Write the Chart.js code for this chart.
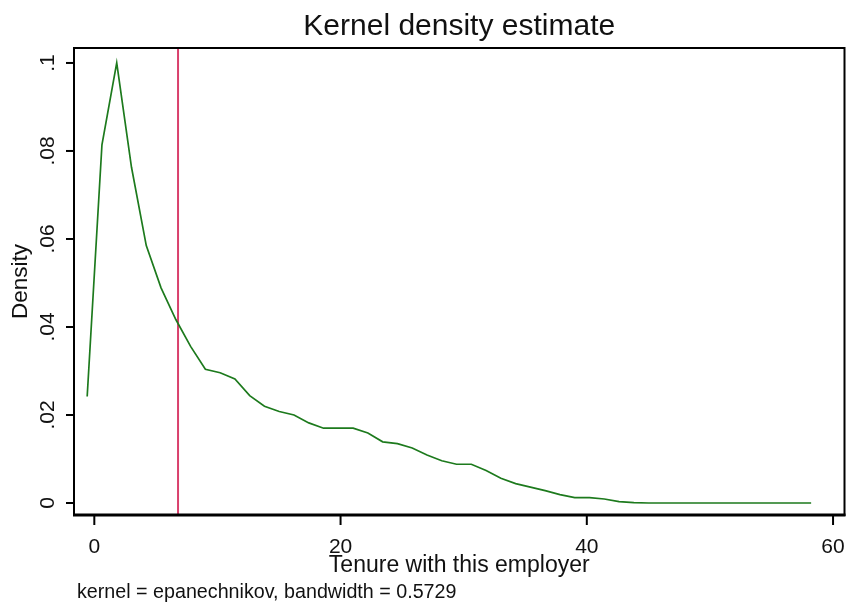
<!DOCTYPE html>
<html>
<head>
<meta charset="utf-8">
<script src="https://cdn.jsdelivr.net/npm/chart.js@4.4.1/dist/chart.umd.min.js"></script>
<style>
  html, body { margin: 0; padding: 0; background: #fff; }
  #wrap { width: 846px; height: 603px; }
</style>
</head>
<body>
<div id="wrap"><canvas id="c" width="846" height="603"></canvas></div>
<script>
// ---- data ----
const titleText = "Kernel density estimate";
const xTitle = "Tenure with this employer";
const yTitle = "Density";
const noteText = "kernel = epanechnikov, bandwidth = 0.5729";

const tenureGrid = [-0.58, 0.62, 1.82, 3.02, 4.22, 5.42, 6.62, 7.82, 9.02, 10.22,
  11.42, 12.62, 13.82, 15.02, 16.22, 17.42, 18.62, 19.82, 21.02, 22.22,
  23.42, 24.62, 25.82, 27.02, 28.22, 29.42, 30.62, 31.82, 33.02, 34.22,
  35.42, 36.62, 37.82, 39.02, 40.22, 41.42, 42.62, 43.82, 45.02, 46.22,
  47.42, 48.62, 49.82, 51.02, 52.22, 53.42, 54.62, 55.82, 57.02, 58.22];
const densityValues = [0.0242, 0.0814, 0.1000, 0.0763, 0.0585, 0.0489, 0.0417, 0.0356, 0.0304, 0.0296,
  0.0282, 0.0244, 0.0220, 0.0208, 0.0200, 0.0182, 0.0170, 0.0170, 0.0170, 0.0159,
  0.0139, 0.0135, 0.0125, 0.0109, 0.0096, 0.0088, 0.0088, 0.0074, 0.0056, 0.0044,
  0.0036, 0.0028, 0.0019, 0.0012, 0.0012, 0.0009, 0.0003, 0.0001, 0.0000, 0.0000,
  0.0000, 0.0000, 0.0000, 0.0000, 0.0000, 0.0000, 0.0000, 0.0000, 0.0000, 0.0000];
const markerX = 6.8;

const xTicks = [0, 20, 40, 60];
const xTickLabels = ["0", "20", "40", "60"];
const yTicks = [0, 0.02, 0.04, 0.06, 0.08, 0.1];
const yTickLabels = ["0", ".02", ".04", ".06", ".08", ".1"];

const xRange = [-1.65, 60.93];
const yRange = [-0.00273, 0.1034];

// ---- build ----
const kdePoints = tenureGrid.map((x, i) => ({ x: x, y: densityValues[i] }));
const markerPoints = [{ x: markerX, y: yRange[0] }, { x: markerX, y: yRange[1] }];

const FONT = '"Liberation Sans", Arial, Helvetica, sans-serif';
const TXT = '#111';

const decor = {
  id: 'decor',
  afterDraw(chart) {
    const ctx = chart.ctx;
    const a = chart.chartArea;
    const xs = chart.scales.x, ys = chart.scales.y;
    ctx.save();
    // frame
    ctx.strokeStyle = '#000';
    ctx.lineWidth = 2;
    ctx.strokeRect(a.left, a.top, a.right - a.left, a.bottom - a.top);
    ctx.lineWidth = 3;
    ctx.beginPath(); ctx.moveTo(a.left - 1, a.bottom); ctx.lineTo(a.right + 1, a.bottom); ctx.stroke();
    // y ticks
    ctx.lineWidth = 2;
    ctx.fillStyle = TXT;
    ctx.font = '21px ' + FONT;
    yTicks.forEach((v, i) => {
      const py = ys.getPixelForValue(v);
      ctx.beginPath(); ctx.moveTo(a.left - 8, py); ctx.lineTo(a.left, py); ctx.stroke();
      ctx.save();
      ctx.translate(54, py);
      ctx.rotate(-Math.PI / 2);
      ctx.textAlign = 'center';
      ctx.textBaseline = 'alphabetic';
      ctx.fillText(yTickLabels[i], 0, 0);
      ctx.restore();
    });
    // x ticks
    xTicks.forEach((v, i) => {
      const px = xs.getPixelForValue(v);
      ctx.beginPath(); ctx.moveTo(px, a.bottom); ctx.lineTo(px, a.bottom + 10); ctx.stroke();
      ctx.textAlign = 'center';
      ctx.textBaseline = 'alphabetic';
      ctx.fillText(xTickLabels[i], px, 553);
    });
    // titles
    ctx.font = '30px ' + FONT;
    ctx.textAlign = 'center';
    ctx.fillText(titleText, (a.left + a.right) / 2, 35);
    ctx.font = '23px ' + FONT;
    ctx.fillText(xTitle, (a.left + a.right) / 2, 572);
    ctx.save();
    ctx.translate(27, (a.top + a.bottom) / 2);
    ctx.rotate(-Math.PI / 2);
    ctx.font = '22.5px ' + FONT;
    ctx.textAlign = 'center';
    ctx.fillText(yTitle, 0, 0);
    ctx.restore();
    // note
    ctx.font = '19.7px ' + FONT;
    ctx.textAlign = 'left';
    ctx.fillText(noteText, 77, 598);
    ctx.restore();
  }
};

new Chart(document.getElementById('c'), {
  type: 'scatter',
  data: {
    datasets: [
      { data: markerPoints, showLine: true, borderColor: '#d9406c', borderWidth: 2, pointRadius: 0, order: 2 },
      { data: kdePoints, showLine: true, borderColor: '#1d7a1d', borderWidth: 1.7, pointRadius: 0, tension: 0, order: 1 }
    ]
  },
  options: {
    responsive: false,
    animation: false,
    devicePixelRatio: 1,
    layout: { padding: { left: 74, right: 1.5, top: 48, bottom: 88 } },
    plugins: { legend: { display: false }, tooltip: { enabled: false }, title: { display: false } },
    scales: {
      x: { type: 'linear', min: xRange[0], max: xRange[1], display: false },
      y: { type: 'linear', min: yRange[0], max: yRange[1], display: false }
    }
  },
  plugins: [decor]
});
</script>
</body>
</html>
